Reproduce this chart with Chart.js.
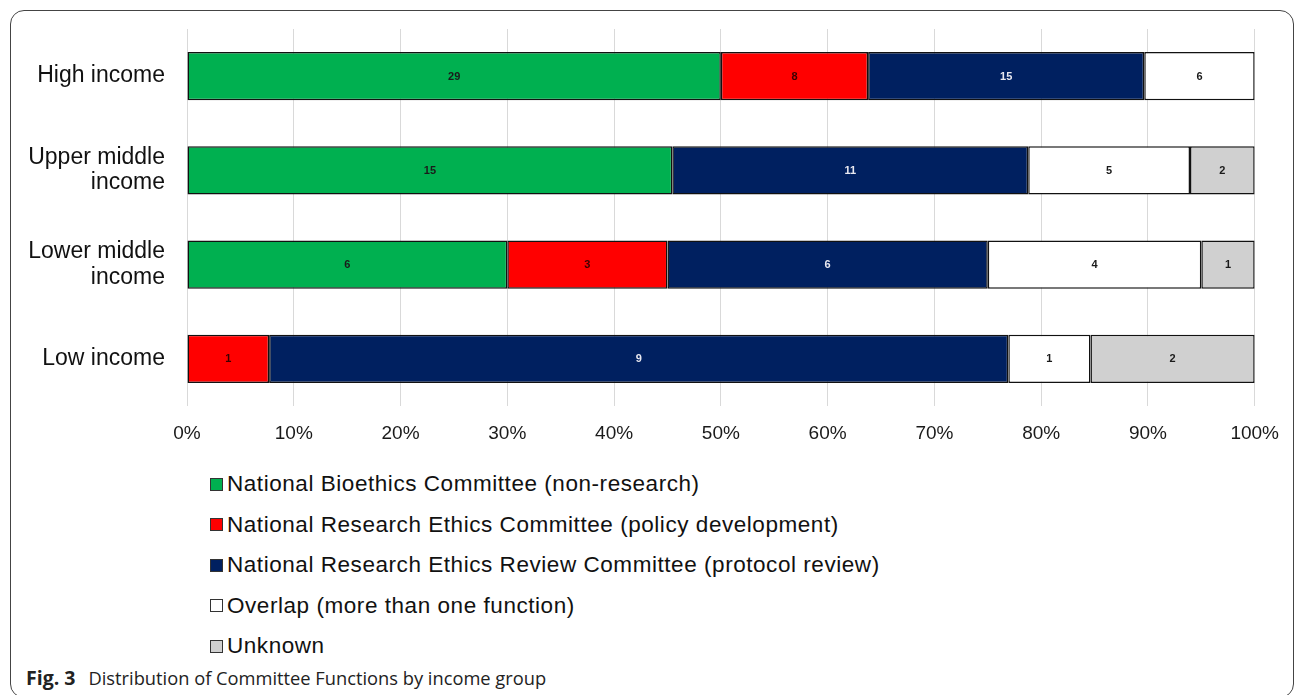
<!DOCTYPE html>
<html>
<head>
<meta charset="utf-8">
<script src="https://cdn.jsdelivr.net/npm/chart.js@4.4.1/dist/chart.umd.min.js"></script>
<style>
  html, body { margin: 0; padding: 0; background: #fff; width: 1295px; height: 695px; overflow: hidden; }
  #frame {
    position: absolute; left: 10px; top: 10px; width: 1284px; height: 688px;
    box-sizing: border-box; border: 1.5px solid #444; border-radius: 14px;
  }
  #chartBox { position: absolute; left: 0; top: 0; width: 1295px; height: 450px; }
  #legend {
    position: absolute; left: 210px; top: 464px;
    font-family: "Liberation Sans", Arial, sans-serif; font-size: 22.5px; color: #111;
    letter-spacing: 0.55px;
  }
  .item { height: 40.5px; display: flex; align-items: center; }
  .swatch { width: 11px; height: 11px; border: 1px solid #333; margin-right: 4px; flex: none; }
  #caption {
    position: absolute; left: 26px; top: 664px;
    font-family: "Open Sans", "Noto Sans", sans-serif; font-size: 18.3px; color: #222;
    white-space: nowrap;
  }
  #caption b { font-weight: 700; font-size: 19.5px; margin-right: 13px; }
</style>
</head>
<body>
<div id="frame"></div>
<div id="chartBox"><canvas id="chart" width="1295" height="450"></canvas></div>
<div id="legend"></div>
<div id="caption"><b>Fig. 3</b>Distribution of Committee Functions by income group</div>
<script>
// Income groups (top to bottom)
const groups = [['High income'], ['Upper middle', 'income'], ['Lower middle', 'income'], ['Low income']];

// Number of committees per function in each income group
const bioethics   = [29, 15, 6, 0];
const policyDev   = [8, 0, 3, 1];
const protocolRev = [15, 11, 6, 9];
const overlap     = [6, 5, 4, 1];
const unknown     = [0, 2, 1, 2];

const seriesNames = [
  'National Bioethics Committee (non-research)',
  'National Research Ethics Committee (policy development)',
  'National Research Ethics Review Committee (protocol review)',
  'Overlap (more than one function)',
  'Unknown'
];
const seriesColors = ['#00b050', '#ff0000', '#002060', '#ffffff', '#d0d0d0'];
const labelColors  = ['#1a1a1a', '#3a0000', '#e8e8f0', '#1a1a1a', '#1a1a1a'];

const tickPercents = [0, 10, 20, 30, 40, 50, 60, 70, 80, 90, 100];

const seriesCounts = [bioethics, policyDev, protocolRev, overlap, unknown];
const totals = groups.map((_, i) => seriesCounts.reduce((s, arr) => s + arr[i], 0));

const datasets = seriesCounts.map((counts, k) => ({
  label: seriesNames[k],
  counts: counts,
  data: counts.map((c, i) => c / totals[i] * 100),
  backgroundColor: seriesColors[k],
  borderColor: '#111',
  borderWidth: 1.5,
  borderSkipped: false,
  categoryPercentage: 1,
  barPercentage: 0.51
}));

// Writes each segment's count in its middle
const countLabels = {
  id: 'countLabels',
  afterDatasetsDraw(chart) {
    const ctx = chart.ctx;
    ctx.save();
    ctx.font = 'bold 11px "Liberation Sans", Arial, sans-serif';
    ctx.textAlign = 'center';
    ctx.textBaseline = 'middle';
    chart.data.datasets.forEach((ds, k) => {
      const meta = chart.getDatasetMeta(k);
      meta.data.forEach((bar, i) => {
        const n = ds.counts[i];
        if (!n) return;
        ctx.fillStyle = labelColors[k];
        ctx.fillText(String(n), (bar.x + bar.base) / 2, bar.y + 0.5);
      });
    });
    ctx.restore();
  }
};

const chart = new Chart(document.getElementById('chart'), {
  type: 'bar',
  data: { labels: groups, datasets },
  options: {
    indexAxis: 'y',
    responsive: false,
    animation: false,
    layout: { padding: { left: 0, right: 40, top: 29, bottom: 0 } },
    plugins: { legend: { display: false }, tooltip: { enabled: false } },
    scales: {
      x: {
        stacked: true,
        min: 0, max: 100,
        afterBuildTicks(scale) { scale.ticks = tickPercents.map(v => ({ value: v })); },
        afterFit(scale) { scale.height = 44; },
        grid: { color: '#d9d9d9', lineWidth: 1, drawTicks: false },
        border: { display: false },
        ticks: {
          padding: 16,
          color: '#1a1a1a',
          font: { family: '"Liberation Sans", Arial, sans-serif', size: 19 },
          callback: v => v + '%'
        }
      },
      y: {
        stacked: true,
        afterFit(scale) {
          scale.width = 187;
          scale.paddingTop = 0;
          scale.paddingBottom = 0;
        },
        grid: { display: false, drawTicks: false },
        border: { display: false },
        ticks: {
          padding: 22,
          color: '#111',
          font: { family: '"Liberation Sans", Arial, sans-serif', size: 23, lineHeight: 1.1 }
        }
      }
    }
  },
  plugins: [countLabels]
});

// Legend built from the chart's own items, one per row
const legendEl = document.getElementById('legend');
chart.options.plugins.legend.labels.generateLabels(chart).forEach(item => {
  const row = document.createElement('div');
  row.className = 'item';
  const sw = document.createElement('span');
  sw.className = 'swatch';
  sw.style.background = item.fillStyle;
  const tx = document.createElement('span');
  tx.textContent = item.text;
  row.appendChild(sw);
  row.appendChild(tx);
  legendEl.appendChild(row);
});
</script>
</body>
</html>
